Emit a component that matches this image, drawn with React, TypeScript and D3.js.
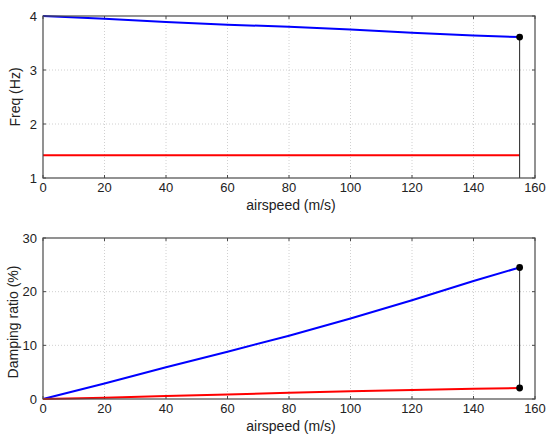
import React from 'react';
import * as d3 from 'd3';

// airspeed samples (m/s)
const speeds = [0, 20, 40, 60, 80, 100, 120, 140, 155];
// frequency (Hz)
const freqMode1 = [4.0, 3.95, 3.89, 3.84, 3.8, 3.75, 3.69, 3.64, 3.61];
const freqMode2 = [1.42, 1.42, 1.42, 1.42, 1.42, 1.42, 1.42, 1.42, 1.42];
// damping ratio (%)
const dampMode1 = [0, 2.9, 5.9, 8.8, 11.8, 15.0, 18.4, 22.0, 24.5];
const dampMode2 = [0, 0.25, 0.55, 0.85, 1.15, 1.45, 1.7, 1.9, 2.05];

const xTicks = [0, 20, 40, 60, 80, 100, 120, 140, 160];
const freqTicks = [1, 2, 3, 4];
const dampTicks = [0, 10, 20, 30];

const W = 550;
const H = 444;
const FONT = '"Liberation Sans", Arial, Helvetica, sans-serif';
const GRID = '#c4c4c4';
const FRAME = '#4a4a4a';

interface PanelProps {
  top: number;
  bottom: number;
  domain: [number, number];
  yTicks: number[];
  label: string;
  labelCenter: number;
  labelX: number;
  series: { values: number[]; color: string }[];
  markers: number[];
  dropToAxis: boolean;
}

function Panel({ top, bottom, domain, yTicks, label, labelCenter, labelX, series, markers, dropToAxis }: PanelProps) {
  const x = d3.scaleLinear().domain([0, 160]).range([43, 535]);
  const y = d3.scaleLinear().domain(domain).range([bottom, top]);
  const line = d3.line<number>()
    .x((_, i) => x(speeds[i]))
    .y(d => y(d));
  const last = speeds[speeds.length - 1];
  const vTop = y(d3.max(markers)!);
  const vBottom = dropToAxis ? bottom : y(d3.min(markers)!);

  return (
    <g>
      {/* grid */}
      {xTicks.slice(1, -1).map(t => (
        <line key={`gx${t}`} x1={x(t)} x2={x(t)} y1={top} y2={bottom}
          stroke={GRID} strokeWidth={0.8} strokeDasharray="1,2" />
      ))}
      {yTicks.slice(1, -1).map(t => (
        <line key={`gy${t}`} x1={x(0)} x2={x(160)} y1={y(t)} y2={y(t)}
          stroke={GRID} strokeWidth={0.8} strokeDasharray="1,2" />
      ))}

      {/* inward ticks on all sides */}
      {xTicks.map(t => (
        <g key={`tx${t}`}>
          <line x1={x(t)} x2={x(t)} y1={bottom} y2={bottom - 3} stroke={FRAME} />
          <line x1={x(t)} x2={x(t)} y1={top} y2={top + 3} stroke={FRAME} />
        </g>
      ))}
      {yTicks.map(t => (
        <g key={`ty${t}`}>
          <line x1={x(0)} x2={x(0) + 3} y1={y(t)} y2={y(t)} stroke={FRAME} />
          <line x1={x(160)} x2={x(160) - 3} y1={y(t)} y2={y(t)} stroke={FRAME} />
        </g>
      ))}

      {/* data */}
      {series.map((s, i) => (
        <path key={i} d={line(s.values)!} fill="none" stroke={s.color} strokeWidth={2} />
      ))}
      <line x1={x(last)} x2={x(last)} y1={vTop} y2={vBottom} stroke="#222" strokeWidth={1} />
      {markers.map((m, i) => (
        <circle key={i} cx={x(last)} cy={y(m)} r={3.4} fill="#000" />
      ))}

      {/* frame */}
      <rect x={x(0)} y={top} width={x(160) - x(0)} height={bottom - top}
        fill="none" stroke={FRAME} strokeWidth={1.2} />

      {/* tick labels */}
      {xTicks.map(t => (
        <text key={`lx${t}`} x={x(t)} y={bottom + 14} textAnchor="middle"
          fontSize={13} fontFamily={FONT} fill="#222">{t}</text>
      ))}
      {yTicks.map(t => (
        <text key={`ly${t}`} x={37} y={y(t) + 4.5} textAnchor="end"
          fontSize={13} fontFamily={FONT} fill="#222">{t}</text>
      ))}

      {/* axis labels */}
      <text x={291} y={bottom + 32} textAnchor="middle" fontSize={14} fontFamily={FONT} fill="#222">
        airspeed (m/s)
      </text>
      <text transform={`translate(${labelX},${labelCenter}) rotate(-90)`} textAnchor="middle"
        fontSize={14} fontFamily={FONT} fill="#222">
        {label}
      </text>
    </g>
  );
}

export default function App() {
  return (
    <svg width={W} height={H} style={{ position: 'absolute', left: 0, top: 0, background: '#fff' }}>
      <Panel
        top={16}
        bottom={178}
        domain={[1, 4]}
        yTicks={freqTicks}
        label="Freq (Hz)"
        labelCenter={97}
        labelX={20}
        series={[
          { values: freqMode1, color: '#0000ff' },
          { values: freqMode2, color: '#ff0000' },
        ]}
        markers={[freqMode1[freqMode1.length - 1]]}
        dropToAxis={true}
      />
      <Panel
        top={238}
        bottom={399}
        domain={[0, 30]}
        yTicks={dampTicks}
        label="Damping ratio (%)"
        labelCenter={322}
        labelX={18}
        series={[
          { values: dampMode1, color: '#0000ff' },
          { values: dampMode2, color: '#ff0000' },
        ]}
        markers={[dampMode1[dampMode1.length - 1], dampMode2[dampMode2.length - 1]]}
        dropToAxis={false}
      />
    </svg>
  );
}
